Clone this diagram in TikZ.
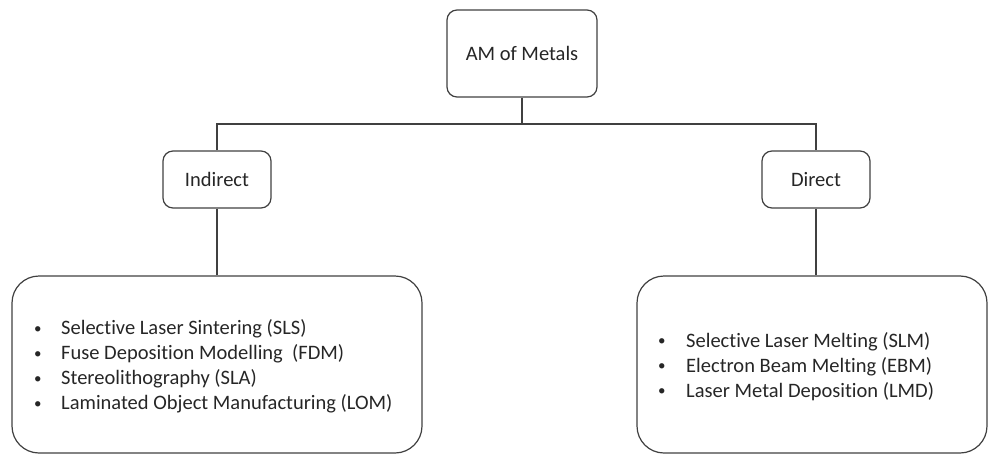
\documentclass[tikz,border=0pt]{standalone}
\usepackage{fontspec}
\setmainfont{Carlito}[Ligatures={NoCommon}]
\newcommand{\smallbul}{\raisebox{1.5pt}{\fontsize{15}{15}\selectfont\textbullet}}
\begin{document}
\begin{tikzpicture}[x=1pt,y=-1pt,
  line/.style={draw=black!75,line width=1.2pt},
  smallbox/.style={line,rounded corners=10pt,inner sep=0pt,font=\fontsize{20.5}{25}\selectfont,text=black!85},
  bigbox/.style={line,rounded corners=27pt,inner sep=0pt},
  listtext/.style={inner sep=0pt,font=\fontsize{20.5}{25}\selectfont,text=black!85,align=left}]
\useasboundingbox (0,0) rectangle (988,455);
\node[smallbox,minimum width=150pt,minimum height=87pt] (am) at (522,53.5) {AM of Metals};
\node[smallbox,minimum width=108pt,minimum height=57pt] (ind) at (217,179.5) {Indirect};
\node[smallbox,minimum width=108pt,minimum height=57pt] (dir) at (816,179.5) {Direct};
\node[bigbox,minimum width=410pt,minimum height=177pt] (indlist) at (217,364.5) {};
\node[bigbox,minimum width=350pt,minimum height=177pt] (dirlist) at (812,364.5) {};
\coordinate (hub) at (am.south |- 0,124);
\draw[line] (am.south) -- (hub);
\draw[line] (ind.north) |- (hub) -| (dir.north);
\draw[line] (ind.south) -- (indlist.north);
\draw[line] (dir.south) -- (dir.south |- dirlist.north);
\node[listtext,anchor=west] (indtext) at (34,367) {%
\begin{tabular}{@{}p{27pt}@{}l@{}}
\smallbul & Selective Laser Sintering (SLS)\\
\smallbul & Fuse Deposition Modelling\ \ (FDM)\\
\smallbul & Stereolithography (SLA)\\
\smallbul & Laminated Object Manufacturing (LOM)
\end{tabular}};
\node[listtext,anchor=west] (dirtext) at (658,367) {%
\begin{tabular}{@{}p{28pt}@{}l@{}}
\smallbul & Selective Laser Melting (SLM)\\
\smallbul & Electron Beam Melting (EBM)\\
\smallbul & Laser Metal Deposition (LMD)
\end{tabular}};
\end{tikzpicture}
\end{document}
